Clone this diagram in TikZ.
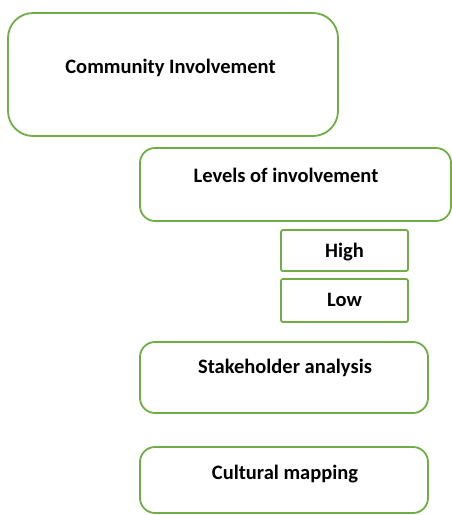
\documentclass[tikz,border=0pt]{standalone}
\usepackage{fontspec}
\setmainfont{Carlito}
\definecolor{boxgreen}{RGB}{112,173,71}
\begin{document}
\begin{tikzpicture}[x=1pt,y=-1pt,
  box/.style={draw=boxgreen, line width=1.8pt, rounded corners=#1, inner sep=0pt},
  box/.default=15pt,
  txt/.style={font=\fontsize{20.5}{24}\selectfont\bfseries, inner sep=0pt}]
\useasboundingbox (0,0) rectangle (452,515);
\node[box=25pt, minimum width=330pt, minimum height=123pt] (b1) at (173,74.5) {};
\node[txt] (t1) at (170.5,68) {Community Involvement};
\node[box=15pt, minimum width=311pt, minimum height=73pt] (b2) at (295.5,184.5) {};
\node[txt] (t2) at (286,175) {Levels of involvement};
\node[box=2pt, minimum width=127pt, minimum height=41pt] (b3) at (344.5,250.5) {};
\node[txt] (t3) at (344.5,252) {High};
\node[box=2pt, minimum width=127pt, minimum height=43pt] (b4) at (344.5,300.5) {};
\node[txt] (t4) at (344.5,300) {Low};
\node[box=15pt, minimum width=288pt, minimum height=71pt] (b5) at (284,377.5) {};
\node[txt] (t5) at (285,368) {Stakeholder analysis};
\node[box=15pt, minimum width=288pt, minimum height=66pt] (b6) at (284,480) {};
\node[txt] (t6) at (285,474) {Cultural mapping};
\end{tikzpicture}
\end{document}
